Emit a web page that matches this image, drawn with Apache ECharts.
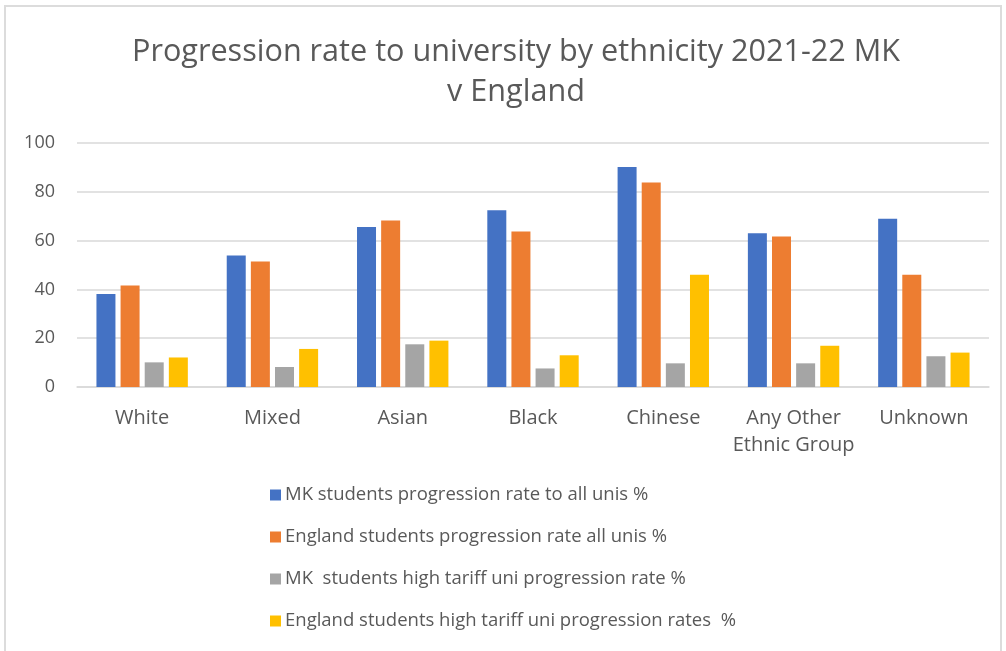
<!DOCTYPE html>
<html>
<head>
<meta charset="utf-8">
<script src="https://cdn.jsdelivr.net/npm/echarts@6/dist/echarts.min.js"></script>
<style>
  html, body { margin: 0; padding: 0; background: #fff; }
  #chart { width: 1006px; height: 651px; }
</style>
</head>
<body>
<div id="chart"></div>
<script>
// Ethnic groups along the category axis
const categories = ['White', 'Mixed', 'Asian', 'Black', 'Chinese', 'Any Other\nEthnic Group', 'Unknown'];

// Progression rates (%) per ethnic group
const mkAllUnis = [38.1, 53.9, 65.6, 72.4, 90.2, 63.0, 69.0];
const englandAllUnis = [41.6, 51.4, 68.2, 63.7, 83.8, 61.7, 46.0];
const mkHighTariff = [10.1, 8.2, 17.5, 7.6, 9.7, 9.7, 12.6];
const englandHighTariff = [12.1, 15.6, 19.0, 13.0, 46.0, 16.9, 14.1];

const seriesNames = [
  'MK students progression rate to all unis %',
  'England students progression rate all unis %',
  'MK  students high tariff uni progression rate %',
  'England students high tariff uni progression rates  %'
];

const yTicks = { min: 0, max: 100, interval: 20 };

const FONT = '"Open Sans", sans-serif';
const TEXT = '#595959';
const colors = ['#4472C4', '#ED7D31', '#A5A5A5', '#FFC000'];

const chart = echarts.init(document.getElementById('chart'), null, { renderer: 'canvas' });

const seriesData = [mkAllUnis, englandAllUnis, mkHighTariff, englandHighTariff];

chart.setOption({
  animation: false,
  color: colors,
  textStyle: { fontFamily: FONT },
  title: {
    text: 'Progression rate to university by ethnicity 2021-22 MK\nv England',
    left: 511,
    textAlign: 'center',
    top: 27,
    textStyle: {
      fontFamily: FONT,
      fontSize: 30.6,
      fontWeight: 'normal',
      color: TEXT,
      lineHeight: 40
    }
  },
  legend: {
    orient: 'vertical',
    left: 265,
    top: 480,
    icon: 'rect',
    itemWidth: 11,
    itemHeight: 11,
    itemGap: 22,
    data: seriesNames,
    textStyle: {
      fontFamily: FONT,
      fontSize: 18.5,
      color: TEXT,
      lineHeight: 20,
      padding: [0, 0, 0, -1]
    }
  },
  grid: {
    left: 77,
    right: 17,
    top: 143,
    bottom: 264
  },
  xAxis: {
    type: 'category',
    data: categories,
    axisLine: { lineStyle: { color: '#d9d9d9', width: 1.5 } },
    axisTick: { show: false },
    axisLabel: {
      interval: 0,
      fontFamily: FONT,
      fontSize: 20,
      color: TEXT,
      margin: 18,
      lineHeight: 27
    }
  },
  yAxis: {
    type: 'value',
    min: yTicks.min,
    max: yTicks.max,
    interval: yTicks.interval,
    axisLine: { show: false },
    axisTick: { show: false },
    splitLine: { lineStyle: { color: '#d9d9d9', width: 1.5 } },
    axisLabel: {
      fontFamily: FONT,
      fontSize: 18,
      color: TEXT,
      margin: 22
    }
  },
  series: seriesNames.map((name, i) => ({
    name: name,
    type: 'bar',
    data: seriesData[i],
    barWidth: 19,
    barGap: '27%',
    itemStyle: { color: colors[i] }
  })),
  graphic: [
    {
      type: 'polyline',
      silent: true,
      shape: { points: [[5, 660], [5, 6], [1001, 6], [1001, 660]] },
      style: { stroke: '#dcdcdc', lineWidth: 2, fill: null }
    }
  ]
});
</script>
</body>
</html>
